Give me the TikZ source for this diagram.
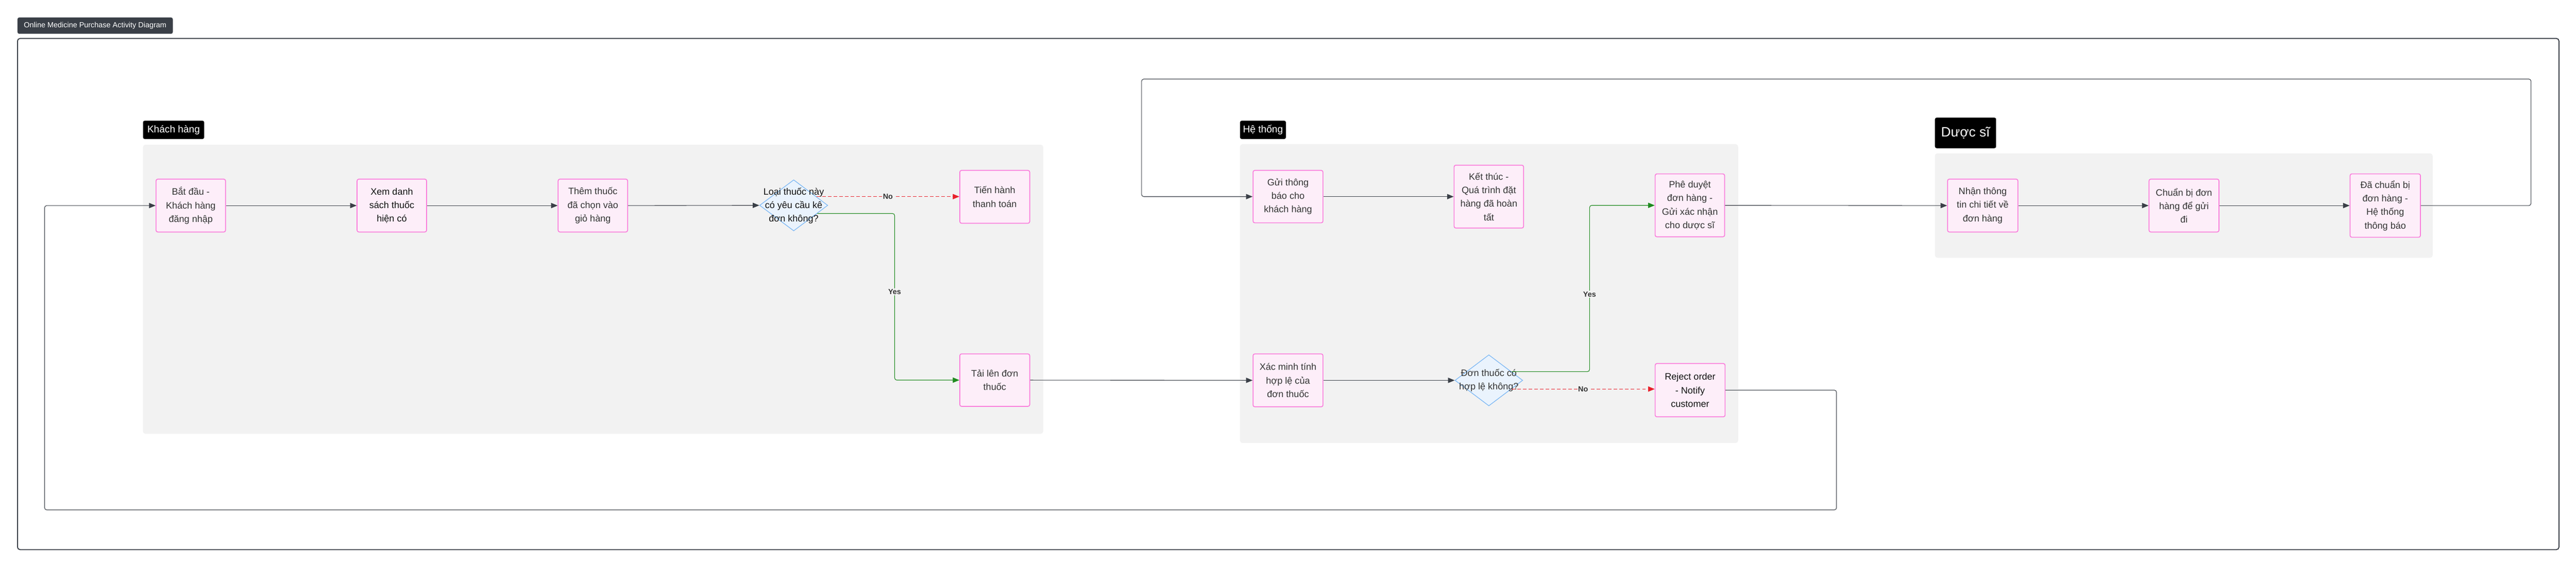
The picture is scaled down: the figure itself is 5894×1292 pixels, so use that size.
\documentclass[tikz,border=0pt]{standalone}
\usepackage{fontspec}
\setmainfont{Liberation Sans}
\usetikzlibrary{shapes.geometric,arrows.meta,calc}
\definecolor{framecol}{HTML}{3A3F47}
\definecolor{lanefill}{HTML}{F2F2F2}
\definecolor{boxfill}{HTML}{FDEEF9}
\definecolor{boxborder}{HTML}{FA7EDC}
\definecolor{diafill}{HTML}{EAF3FD}
\definecolor{diaborder}{HTML}{7DB8F4}
\definecolor{textgray}{HTML}{333333}
\definecolor{textdark}{HTML}{111111}
\definecolor{yesgreen}{HTML}{1E8A1E}
\definecolor{nored}{HTML}{E8212B}
\begin{document}
\begin{tikzpicture}[x=1pt,y=-1pt,
  box/.style={rectangle, rounded corners=4pt, draw=boxborder, fill=boxfill, line width=2pt,
    minimum width=159pt, minimum height=121pt, inner sep=0pt, align=center, text=textgray,
    font=\fontsize{21.3}{31}\selectfont},
  dia/.style={diamond, draw=diaborder, fill=diafill, line width=1.5pt, minimum width=156pt,
    minimum height=117pt, inner sep=0pt},
  diatext/.style={align=center, text=textdark, font=\fontsize{21.3}{31}\selectfont, inner sep=0pt},
  lanelabel/.style={rectangle, rounded corners=4pt, fill=black, text=white, inner sep=0pt,
    font=\fontsize{22.5}{26}\selectfont},
  edge/.style={draw=framecol, line width=1.3pt, rounded corners=5pt,
    -{Triangle[length=15pt,width=12pt]}},
  yesedge/.style={draw=yesgreen, line width=1.3pt, rounded corners=5pt,
    -{Triangle[length=15pt,width=12pt]}},
  noedge/.style={draw=nored, line width=1.4pt, dash pattern=on 8pt off 5pt,
    -{Triangle[length=15pt,width=12pt]}},
  elabel/.style={fill=lanefill, inner sep=2pt, text=textgray,
    font=\fontsize{17}{20}\selectfont\bfseries}
]
\useasboundingbox (0,0) rectangle (5894,1292);

% title
\node[rectangle, rounded corners=4pt, fill=framecol, draw=framecol, text=white, anchor=north west,
  minimum width=355pt, minimum height=37pt, inner sep=0pt,
  font=\fontsize{17}{20}\selectfont] (title) at (40,40) {Online Medicine Purchase Activity Diagram};

% outer frame
\draw[framecol, line width=2.2pt, rounded corners=6pt] (40,88) rectangle (5855,1258);

% lanes
\fill[lanefill, rounded corners=6pt] (327,331) rectangle (2387,993);
\fill[lanefill, rounded corners=6pt] (2837,330) rectangle (3977,1014);
\fill[lanefill, rounded corners=6pt] (4427,351) rectangle (5566,590);

% lane labels
\node[lanelabel, anchor=north west, minimum width=140pt, minimum height=42pt] (lbl1) at (327,276) {Khách hàng};
\node[lanelabel, anchor=north west, minimum width=105pt, minimum height=42pt] (lbl2) at (2837,276) {Hệ thống};
\node[lanelabel, anchor=north west, minimum width=140pt, minimum height=70pt,
  font=\fontsize{31}{36}\selectfont] (lbl3) at (4427,269) {Dược sĩ};

% Khách hàng lane
\node[box] (n1) at (436.5,470.5) {Bắt đầu -\\Khách hàng\\đăng nhập};
\node[box, text=textdark] (n2) at (896.5,470.5) {Xem danh\\sách thuốc\\hiện có};
\node[box] (n3) at (1356.5,470.5) {Thêm thuốc\\đã chọn vào\\giỏ hàng};
\node[dia] (d1) at (1816,470) {};
\node[diatext] (d1t) at (1816,471) {Loại thuốc này\\có yêu cầu kê\\đơn không?};
\node[box, minimum width=160pt] (n4) at (2276,450.5) {Tiến hành\\thanh toán};
\node[box, minimum width=160pt, minimum height=120pt] (n5) at (2276,870) {Tải lên đơn\\thuốc};

% Hệ thống lane
\node[box, minimum width=160pt, minimum height=120pt] (n6) at (2947,450) {Gửi thông\\báo cho\\khách hàng};
\node[box, minimum height=144pt] (n7) at (3406.5,450) {Kết thúc -\\Quá trình đặt\\hàng đã hoàn\\tất};
\node[box, minimum height=144pt] (n8) at (3866.5,470) {Phê duyệt\\đơn hàng -\\Gửi xác nhận\\cho dược sĩ};
\node[box, minimum width=160pt] (n9) at (2947,870.5) {Xác minh tính\\hợp lệ của\\đơn thuốc};
\node[dia, minimum width=155pt] (d2) at (3406.5,870.5) {};
\node[diatext, text=textgray] (d2t) at (3406.5,870.5) {Đơn thuốc có\\hợp lệ không?};
\node[box, minimum width=160pt, minimum height=122pt, text=textdark] (n10) at (3867,893) {Reject order\\- Notify\\customer};

% Dược sĩ lane
\node[box, minimum width=161pt] (n11) at (4536.5,470.5) {Nhận thông\\tin chi tiết về\\đơn hàng};
\node[box, minimum width=160pt] (n12) at (4997,470.5) {Chuẩn bị đơn\\hàng để gửi\\đi};
\node[box, minimum width=161pt, minimum height=145pt] (n13) at (5457.5,470.5) {Đã chuẩn bị\\đơn hàng -\\Hệ thống\\thông báo};

% helper coordinates
\coordinate (y1a) at (2047,0);
\coordinate (y2a) at (3637,0);
\coordinate (l1r) at (5791,181);
\coordinate (l1l) at (2612,181);
\coordinate (l2r) at (4202,1167);
\coordinate (l2l) at (102,1167);

% edges
\draw[edge] (n1.east) -- (n2.west);
\draw[edge] (n2.east) -- (n3.west);
\draw[edge] (n3.east) -- (d1.west);
\draw[noedge] (d1.21) -- node[elabel] (lno1) {No} (d1.21 -| n4.west);
\draw[yesedge] (d1.-19) -- (d1.-19 -| y1a) -- node[elabel, pos=0.47] (lyes1) {Yes} (y1a |- n5.west) -- (n5.west);
\draw[edge] (n5.east) -- (n9.west);
\draw[edge] (n9.east) -- (d2.west);
\draw[yesedge] (d2.21) -- (d2.21 -| y2a) -- node[elabel, pos=0.466] (lyes2) {Yes} (y2a |- n8.west) -- (n8.west);
\draw[noedge] (d2.-21) -- node[elabel] (lno2) {No} (d2.-21 -| n10.west);
\draw[edge] (n8.east) -- (n11.west);
\draw[edge] (n11.east) -- (n12.west);
\draw[edge] (n12.east) -- (n13.west);
\draw[edge] (n6.east) -- (n7.west);
\draw[edge] (n13.east) -- (n13.east -| l1r) -- (l1r) -- (l1l) -- (l1l |- n6.west) -- (n6.west);
\draw[edge] (n10.east) -- (n10.east -| l2r) -- (l2r) -- (l2l) -- (l2l |- n1.west) -- (n1.west);
\end{tikzpicture}
\end{document}
